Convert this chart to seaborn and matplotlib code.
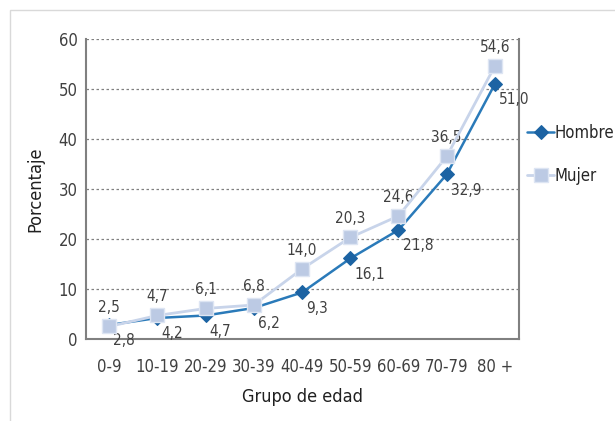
import pandas as pd
import matplotlib
matplotlib.use("Agg")
import matplotlib.pyplot as plt
import seaborn as sns
from matplotlib.patches import Rectangle

grupos = ["0-9", "10-19", "20-29", "30-39", "40-49", "50-59", "60-69", "70-79", "80 +"]
hombre = [2.8, 4.2, 4.7, 6.2, 9.3, 16.1, 21.8, 32.9, 51.0]
mujer = [2.5, 4.7, 6.1, 6.8, 14.0, 20.3, 24.6, 36.5, 54.6]

sns.set_style("white")
plt.rcParams["font.family"] = ["DejaVu Sans"]
plt.rcParams["font.stretch"] = "condensed"

df = pd.DataFrame({
    "Grupo de edad": grupos * 2,
    "Porcentaje": hombre + mujer,
    "Sexo": ["Hombre"] * len(grupos) + ["Mujer"] * len(grupos),
})
df["pos"] = list(range(len(grupos))) * 2

fig = plt.figure(figsize=(6.15, 4.21), dpi=100)
ax = fig.add_axes([0.1398, 0.1948, 0.7041, 0.7126])

# light frame around the whole figure
fig.patches.append(Rectangle((10 / 615, -0.05), 1.2, 1 - 10 / 421 + 0.05,
                             transform=fig.transFigure, fill=False,
                             edgecolor="#d9d9d9", linewidth=1.0))

for y in range(10, 61, 10):
    ax.axhline(y, color="#808080", linestyle=(0, (2, 2)), linewidth=0.9, zorder=0)

sns.lineplot(data=df[df["Sexo"] == "Hombre"], x="pos", y="Porcentaje", ax=ax,
             color="#2a7ab9", linewidth=1.8, marker="D", markersize=7,
             markerfacecolor="#1c63a3", markeredgecolor="#1c63a3",
             label="Hombre", zorder=3)
sns.lineplot(data=df[df["Sexo"] == "Mujer"], x="pos", y="Porcentaje", ax=ax,
             color="#c8d4ea", linewidth=2, marker="s", markersize=10,
             markerfacecolor="#bccae4", markeredgecolor="#dde5f3",
             markeredgewidth=1, label="Mujer", zorder=4)

for i, (h, m) in enumerate(zip(hombre, mujer)):
    ax.annotate(f"{m:.1f}".replace(".", ","), (i, m), xytext=(0, 8),
                textcoords="offset points", ha="center", va="bottom",
                fontsize=11, color="#404040")
    ax.annotate(f"{h:.1f}".replace(".", ","), (i, h), xytext=(3, -6),
                textcoords="offset points", ha="left", va="top",
                fontsize=11, color="#404040")

ax.set_xlim(-0.48, 8.5)
ax.set_ylim(0, 60)
ax.set_yticks(range(0, 61, 10))
ax.set_xticks(range(len(grupos)))
ax.set_xticklabels(grupos)
ax.tick_params(axis="both", length=0, labelsize=12, colors="#404040", pad=6)
ax.tick_params(axis="x", pad=14)
ax.set_xlabel("Grupo de edad", fontsize=13, color="#202020", labelpad=8)
ax.set_ylabel("Porcentaje", fontsize=13, color="#202020", labelpad=10)

for side in ["left", "bottom", "right"]:
    ax.spines[side].set_color("#808080")
    ax.spines[side].set_linewidth(1.5)
ax.spines["top"].set_visible(False)

ax.legend(loc="center left", bbox_to_anchor=(1.0, 0.615),
          frameon=False, fontsize=12, handlelength=1.6, handletextpad=0.05,
          labelspacing=1.5, borderaxespad=0.1)

fig.savefig("out.png", dpi=100)
